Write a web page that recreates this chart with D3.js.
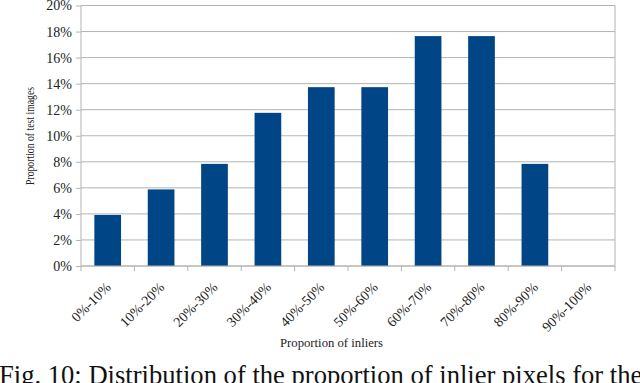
<!DOCTYPE html>
<html><head><meta charset="utf-8">
<script src="https://cdn.jsdelivr.net/npm/d3@7"></script>
<style>body{margin:0;background:#fff}svg{display:block}</style>
</head><body>
<svg id="c" width="640" height="383"></svg>
<script>
const categories = ["0%-10%","10%-20%","20%-30%","30%-40%","40%-50%","50%-60%","60%-70%","70%-80%","80%-90%","90%-100%"];
const values = [3.92, 5.88, 7.84, 11.76, 13.73, 13.73, 17.65, 17.65, 7.84, 0];
const yTicks = [0,2,4,6,8,10,12,14,16,18,20];
const xTitle = "Proportion of inliers";
const yTitle = "Proportion of test images";
const caption = "Fig. 10: Distribution of the proportion of inlier pixels for the";

const svg = d3.select("#c");
const L = 81, R = 615, T = 5.5, B = 266;
const x = d3.scaleBand().domain(categories).range([L, R]).paddingInner(0).paddingOuter(0);
const y = d3.scaleLinear().domain([0, 20]).range([B, T]);
const serif = "'Liberation Serif','DejaVu Serif',serif";
const grid = "#b3b3b3";

svg.append("g").selectAll("line").data(yTicks).join("line")
  .attr("x1", L).attr("x2", R).attr("y1", d => y(d)).attr("y2", d => y(d))
  .attr("stroke", grid).attr("stroke-width", 1);
svg.append("line").attr("x1", R).attr("x2", R).attr("y1", T).attr("y2", B).attr("stroke", grid);

svg.append("g").selectAll("rect").data(values).join("rect")
  .attr("x", (d,i) => x(categories[i]) + x.bandwidth()*0.25)
  .attr("width", x.bandwidth()*0.5)
  .attr("y", d => y(d)).attr("height", d => B - y(d))
  .attr("fill", "#004586");

const ya = svg.append("g").attr("transform", `translate(${L},0)`)
  .call(d3.axisLeft(y).tickValues(yTicks).tickFormat(d => d + "%").tickSize(5).tickPadding(4));
ya.select(".domain").attr("stroke", grid).attr("d", `M-0,${T}V${B}`);
ya.selectAll(".tick line").attr("stroke", grid);
ya.selectAll("text").attr("font-family", serif).attr("font-size", 14).attr("fill", "#222");

const xa = svg.append("g").attr("transform", `translate(0,${B})`)
  .call(d3.axisBottom(x).tickSize(0).tickFormat(""));
xa.select(".domain").attr("stroke", grid).attr("d", `M${L},0H${R}`);
xa.selectAll(".tick line").remove();
const edges = categories.map(c => x(c)).concat([R]);
xa.selectAll("line.edge").data(edges).join("line").attr("class","edge")
  .attr("x1", d => d).attr("x2", d => d).attr("y1", 0).attr("y2", 5).attr("stroke", grid);

svg.append("g").selectAll("text").data(categories).join("text")
  .attr("transform", d => `translate(${x(d) + x.bandwidth()/2 - 3},${B + 15}) rotate(-45)`)
  .attr("text-anchor", "end").attr("dy", "0.71em")
  .attr("font-family", serif).attr("font-size", 14).attr("fill", "#222")
  .text(d => d);

svg.append("text").attr("x", 331.5).attr("y", 347).attr("text-anchor","middle")
  .attr("font-family", serif).attr("font-size", 12).attr("fill","#222")
  .attr("textLength", 103).attr("lengthAdjust", "spacingAndGlyphs").text(xTitle);
svg.append("text").attr("transform", `translate(34,136) rotate(-90)`).attr("text-anchor","middle")
  .attr("font-family", serif).attr("font-size", 12).attr("fill","#222")
  .attr("textLength", 98).attr("lengthAdjust", "spacingAndGlyphs").text(yTitle);

svg.append("text").attr("x", -1).attr("y", 384).attr("font-family", serif).attr("font-size", 26.6)
  .attr("fill","#111").text(caption);
</script>
</body></html>
